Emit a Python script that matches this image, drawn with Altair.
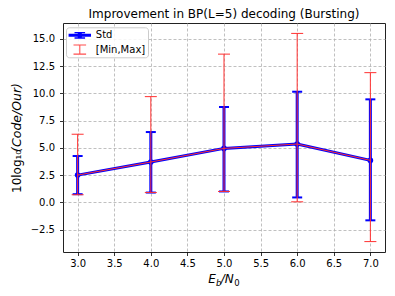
import altair as alt
import pandas as pd

# ---- data ----
x_vals = [3.0, 4.0, 5.0, 6.0, 7.0]
mean_vals = [2.5, 3.7, 4.95, 5.35, 3.85]
std_low = [0.75, 0.9, 1.0, 0.45, -1.65]
std_high = [4.25, 6.45, 8.75, 10.15, 9.45]
min_vals = [0.7, 0.9, 1.0, 0.05, -3.6]
max_vals = [6.25, 9.7, 13.6, 15.5, 11.9]
series_names = ["Std", "[Min,Max]"]
x_ticks = [3.0, 3.5, 4.0, 4.5, 5.0, 5.5, 6.0, 6.5, 7.0]
y_ticks = [-2.5, 0.0, 2.5, 5.0, 7.5, 10.0, 12.5, 15.0]
title_text = "Improvement in BP(L=5) decoding (Bursting)"

BLUE = "#0000ff"
RED = "#ff3030"
FONT = "DejaVu Sans"

df = pd.DataFrame({"x": x_vals, "m": mean_vals, "slo": std_low, "shi": std_high,
                   "mn": min_vals, "mx": max_vals})

xs = alt.Scale(domain=[2.8, 7.2], nice=False, zero=False)
ys = alt.Scale(domain=[-4.555, 16.455], nice=False, zero=False)
x_axis = dict(values=x_ticks, format=".1f", title=None, labelOverlap=False)
y_axis = dict(values=y_ticks, format=".1f", title=None, labelOverlap=False)

def xq():
    return alt.X("x:Q", scale=xs, title=None, axis=alt.Axis(**x_axis))
def yq(f):
    return alt.Y(f + ":Q", scale=ys, title=None, axis=alt.Axis(**y_axis))

base = alt.Chart(df)

blue_line = base.mark_line(color=BLUE, strokeWidth=3).encode(x=xq(), y=yq("m"))
blue_bars = base.mark_rule(color=BLUE, strokeWidth=3).encode(x=xq(), y=yq("slo"), y2="shi:Q")
blue_cap_lo = base.mark_tick(orient="horizontal", color=BLUE, size=10, thickness=2, opacity=1).encode(
    x=xq(), y=yq("slo"))
blue_cap_hi = base.mark_tick(orient="horizontal", color=BLUE, size=10, thickness=2, opacity=1).encode(
    x=xq(), y=yq("shi"))
blue_dots = base.mark_circle(color=BLUE, size=32, opacity=1).encode(x=xq(), y=yq("m"))

red_line = base.mark_line(color=RED, strokeWidth=1).encode(x=xq(), y=yq("m"))
red_bars = base.mark_rule(color=RED, strokeWidth=1).encode(x=xq(), y=yq("mn"), y2="mx:Q")
red_cap_lo = base.mark_tick(orient="horizontal", color=RED, size=12, thickness=1, opacity=1).encode(
    x=xq(), y=yq("mn"))
red_cap_hi = base.mark_tick(orient="horizontal", color=RED, size=12, thickness=1, opacity=1).encode(
    x=xq(), y=yq("mx"))

# ---- legend (errorbar-like custom symbols) ----
path_std = (
    "M-1.87,-0.25H1.87V0.25H-1.87Z"
    "M-0.25,-0.45H0.25V0.45H-0.25Z"
    "M-0.88,-0.57H0.88V-0.33H-0.88Z"
    "M-0.88,0.33H0.88V0.57H-0.88Z"
    "M-0.45,0A0.45,0.45 0 1 1 0.45,0A0.45,0.45 0 1 1 -0.45,0Z"
)
path_mm = (
    "M-0.09,-0.75H0.09V0.75H-0.09Z"
    "M-1.05,-0.84H1.05V-0.67H-1.05Z"
    "M-1.05,0.67H1.05V0.84H-1.05Z"
)
leg = alt.Legend(title=None, orient="none", legendX=3, legendY=4.3, padding=2,
                 rowPadding=3.3, symbolSize=144, symbolOffset=5.8, labelOffset=10,
                 labelFont=FONT, labelFontSize=10, labelColor="#000",
                 fillColor="rgba(255,255,255,0.85)", strokeColor="#cccccc",
                 cornerRadius=3, symbolStrokeWidth=0, symbolOpacity=1)
df_leg = pd.DataFrame({"series": series_names, "x": [100.0, 100.0], "m": [0.0, 0.0]})
legend_layer = alt.Chart(df_leg).mark_point(filled=True, opacity=1, clip=True).encode(
    x=xq(), y=yq("m"),
    color=alt.Color("series:N", scale=alt.Scale(domain=series_names, range=[BLUE, "#ff4d4d"]), legend=leg),
    shape=alt.Shape("series:N", scale=alt.Scale(domain=series_names, range=[path_std, path_mm]), legend=leg),
)

# ---- axis titles as text marks (mixed italic / subscript) ----
one = pd.DataFrame({"a": [0]})
def txt(s, x, y, size=12, italic=False, align="left", baseline="alphabetic", angle=0):
    kw = dict(font=FONT, fontSize=size, align=align, baseline=baseline, color="#000")
    if italic:
        kw["fontStyle"] = "italic"
    if angle:
        kw["angle"] = angle
    return alt.Chart(one).mark_text(**kw).encode(
        x=alt.value(x), y=alt.value(y), text=alt.value(s))

xl_E = txt("E", 145.3, 260.3, 12, True)
xl_b = txt("b", 153.0, 262.5, 8.5, True)
xl_N = txt("/N", 157.7, 260.3, 12, True)
xl_0 = txt("0", 171.2, 262.5, 8.5, False)
yl_1 = txt("10log₁₀", -46, 170, 12, False, align="left", baseline="middle", angle=270)
yl_2 = txt("(Code/Our)", -46, 60, 12.5, True, align="right", baseline="middle", angle=270)

chart = alt.layer(
    blue_line, blue_bars, blue_cap_lo, blue_cap_hi, blue_dots,
    red_line, red_bars, red_cap_lo, red_cap_hi,
    legend_layer, xl_E, xl_b, xl_N, xl_0, yl_1, yl_2,
).properties(
    width=322, height=229,
    padding={"left": 55, "top": 15, "right": 2, "bottom": 36},
    autosize=alt.AutoSizeParams(type="none"),
    title=alt.TitleParams(title_text, font=FONT, fontSize=12, fontWeight="normal",
                          color="#000", offset=2.5, anchor="middle"),
).configure_view(
    stroke="#222", strokeWidth=1
).configure_axis(
    grid=True, gridDash=[3, 2], gridColor="#b0b0b0", gridWidth=0.8,
    domain=False, ticks=True, tickColor="#000", tickSize=3.5, tickWidth=0.8,
    labelFont=FONT, labelFontSize=10, labelColor="#000", labelOverlap=False,
).configure_axisY(labelPadding=5).configure_axisX(labelPadding=2.5)

chart.save("out.html", embed_options={"renderer": "svg", "actions": False})
